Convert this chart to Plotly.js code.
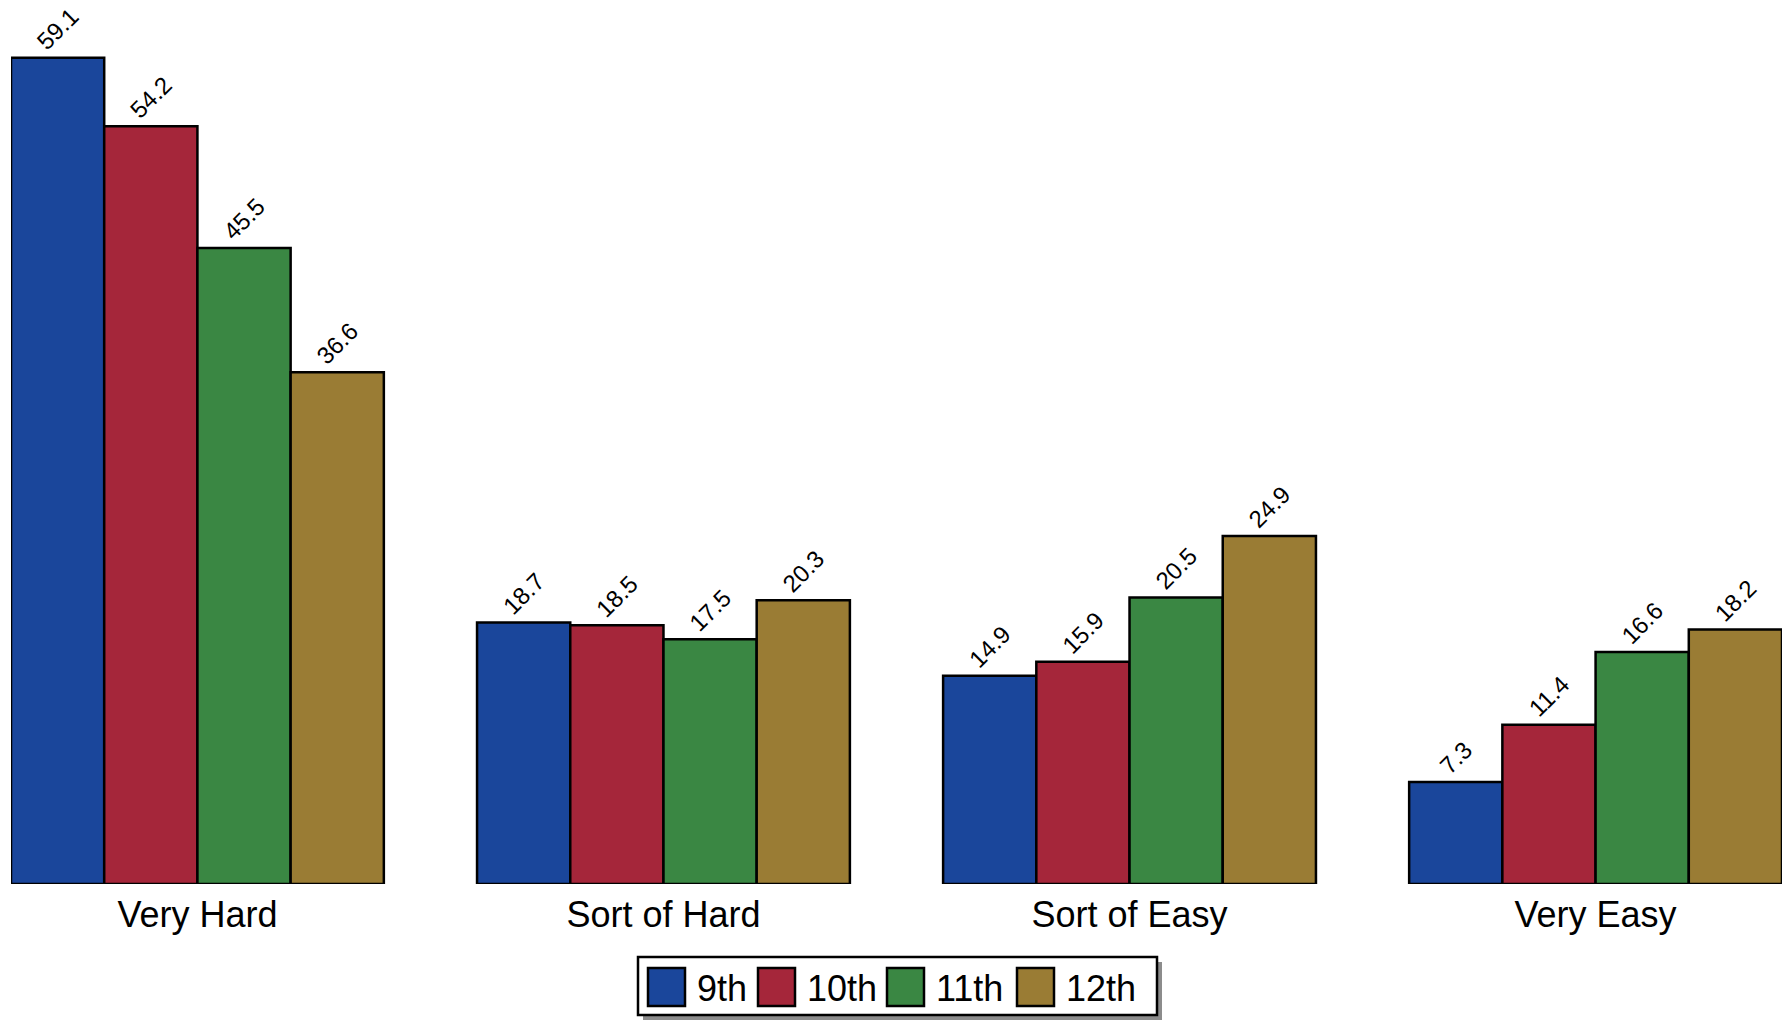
<!DOCTYPE html>
<html>
<head>
<meta charset="utf-8">
<script src="https://cdn.plot.ly/plotly-3.0.1.min.js"></script>
<style>html,body{margin:0;padding:0;background:#fff;}#chart{width:1783px;height:1020px;}</style>
</head>
<body>
<div id="chart"></div>
<script>
// ---- data ----
const categories = ["Very Hard", "Sort of Hard", "Sort of Easy", "Very Easy"];
const seriesNames = ["9th", "10th", "11th", "12th"];
const grade9  = [59.1, 18.7, 14.9, 7.3];
const grade10 = [54.2, 18.5, 15.9, 11.4];
const grade11 = [45.5, 17.5, 20.5, 16.6];
const grade12 = [36.6, 20.3, 24.9, 18.2];
const seriesValues = [grade9, grade10, grade11, grade12];
const seriesColors = ["#1A469B", "#A5263A", "#3A8743", "#9A7C34"];

// ---- layout geometry (pixels) ----
const W = 1783, H = 1020;
const M = {l: 11, r: 1, t: 22, b: 136};
const plotW = W - M.l - M.r, plotH = H - M.t - M.b;
const pxPerUnit = 13.98;
const FONT = "Liberation Sans, Arial, Helvetica, sans-serif";

const traces = seriesNames.map((name, i) => ({
  type: "bar",
  name: name,
  x: categories,
  y: seriesValues[i],
  marker: {color: seriesColors[i], line: {color: "#000", width: 2.5}},
  texttemplate: "%{y:.1f}",
  textposition: "outside",
  textangle: -45,
  constraintext: "none",
  textfont: {family: FONT, size: 24, color: "#000"},
  outsidetextfont: {family: FONT, size: 24, color: "#000"},
  cliponaxis: false,
  showlegend: false,
  hoverinfo: "x+y+name"
}));

// manual legend (large swatches like the reference)
const px2x = px => (px - M.l) / plotW;
const px2y = py => (M.t + plotH - py) / plotH;
const shapes = [];
const annotations = [];
const box = {x0: 638, x1: 1157, y0: 957, y1: 1015};
shapes.push({type: "rect", xref: "paper", yref: "paper",
  x0: px2x(box.x0 + 5), x1: px2x(box.x1 + 5), y0: px2y(box.y1 + 5), y1: px2y(box.y0 + 5),
  fillcolor: "#8c8c8c", line: {width: 0}, layer: "above"});
shapes.push({type: "rect", xref: "paper", yref: "paper",
  x0: px2x(box.x0), x1: px2x(box.x1), y0: px2y(box.y1), y1: px2y(box.y0),
  fillcolor: "#fff", line: {color: "#000", width: 2.5}, layer: "above"});
const swatchLeft = [648, 758, 887, 1017];
seriesNames.forEach((name, i) => {
  const sx = swatchLeft[i];
  shapes.push({type: "rect", xref: "paper", yref: "paper",
    x0: px2x(sx), x1: px2x(sx + 37), y0: px2y(1006), y1: px2y(968),
    fillcolor: seriesColors[i], line: {color: "#000", width: 2.5}, layer: "above"});
  annotations.push({xref: "paper", yref: "paper", x: px2x(sx + 47), y: px2y(988),
    xanchor: "left", yanchor: "middle", text: name, showarrow: false,
    font: {family: FONT, size: 36, color: "#000"}});
});

const layout = {
  width: W, height: H,
  margin: M,
  paper_bgcolor: "#fff", plot_bgcolor: "#fff",
  barmode: "group", bargap: 0.2, bargroupgap: 0,
  showlegend: false,
  font: {family: FONT, color: "#000"},
  xaxis: {type: "category", range: [-0.4, 3.4], showgrid: false, zeroline: false,
    showline: false, ticks: "", ticklabelstandoff: 6,
    tickfont: {family: FONT, size: 36, color: "#000"}, fixedrange: true},
  yaxis: {range: [0, plotH / pxPerUnit], visible: false, showgrid: false, zeroline: false, fixedrange: true},
  shapes: shapes,
  annotations: annotations
};

Plotly.newPlot("chart", traces, layout, {displayModeBar: false, staticPlot: true});
</script>
</body>
</html>
